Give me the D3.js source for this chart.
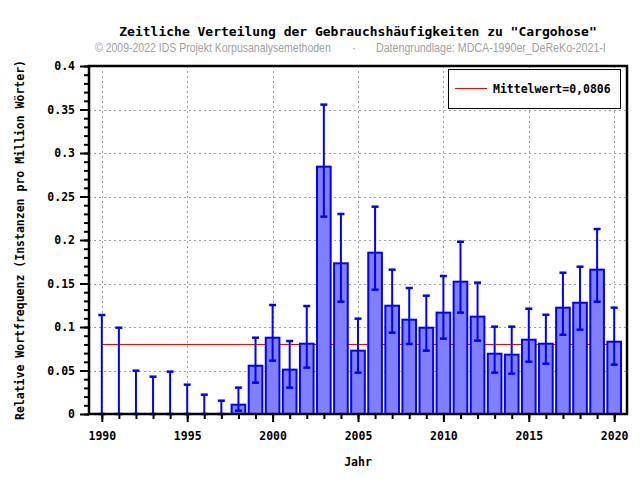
<!DOCTYPE html>
<html>
<head>
<meta charset="utf-8">
<script src="https://cdn.jsdelivr.net/npm/d3@7"></script>
<style>
  body { margin: 0; background: #fff; }
  svg { display: block; }
  text { font-family: "DejaVu Sans Mono", monospace; font-weight: bold; fill: #000; }
</style>
</head>
<body>
<svg id="chart"></svg>
<script>
const years = d3.range(1990, 2021);
const values = [0, 0, 0, 0, 0, 0, 0, 0, 0.0107, 0.0555, 0.0877, 0.051, 0.0808, 0.2843, 0.1732,
  0.0728, 0.1854, 0.1245, 0.1084, 0.0992, 0.1165, 0.1521, 0.1119, 0.0693, 0.0682, 0.0854,
  0.0808, 0.1222, 0.1279, 0.1659, 0.0831];
const errLow = [0, 0, 0, 0, 0, 0, 0, 0, 0.0038, 0.036, 0.0613, 0.0303, 0.0533, 0.2268, 0.1291,
  0.0475, 0.1429, 0.0935, 0.0805, 0.0728, 0.0866, 0.1165, 0.0843, 0.0475, 0.0464, 0.0601,
  0.0578, 0.0911, 0.0969, 0.1291, 0.0567];
const errHigh = [0.1138, 0.0992, 0.0498, 0.0429, 0.0487, 0.0337, 0.0222, 0.0153, 0.0303, 0.0877,
  0.1253, 0.0839, 0.1241, 0.3556, 0.2299, 0.1096, 0.2383, 0.1659, 0.1448, 0.136, 0.1586, 0.198,
  0.151, 0.1004, 0.1004, 0.121, 0.1141, 0.1624, 0.1693, 0.2126, 0.1222];
const meanValue = 0.0806;
const yMajor = [0, 0.05, 0.1, 0.15, 0.2, 0.25, 0.3, 0.35, 0.4];
const yMinor = d3.range(0, 41).map(i => i / 100);
const xMajor = [1990, 1995, 2000, 2005, 2010, 2015, 2020];

const data = years.map((y, i) => ({ year: y, value: values[i], lo: errLow[i], hi: errHigh[i] }));

const width = 640;
const height = 480;
const margin = { top: 66, right: 13, bottom: 66, left: 89 };

const svg = d3.select("#chart").attr("width", width).attr("height", height);

const x = d3.scaleLinear().domain([1989.25, 2020.75]).range([margin.left, width - margin.right]);
const y = d3.scaleLinear().domain([0, 0.4]).range([height - margin.bottom, margin.top]);
const barW = x(1990.8) - x(1990);

// grid
const grid = svg.append("g").attr("stroke", "#a0a0a0").attr("stroke-width", 1).attr("stroke-dasharray", "2,3");
grid.selectAll(".gy").data(yMajor.filter(d => d > 0 && d < 0.4)).join("line")
  .attr("x1", margin.left).attr("x2", width - margin.right)
  .attr("y1", d => Math.round(y(d)) + 0.5).attr("y2", d => Math.round(y(d)) + 0.5);
grid.selectAll(".gx").data(xMajor).join("line")
  .attr("x1", d => Math.round(x(d)) + 0.5).attr("x2", d => Math.round(x(d)) + 0.5)
  .attr("y1", margin.top).attr("y2", height - margin.bottom);

// mean line
svg.append("line")
  .attr("x1", x(years[0])).attr("x2", x(years[years.length - 1]))
  .attr("y1", Math.round(y(meanValue)) + 0.5).attr("y2", Math.round(y(meanValue)) + 0.5)
  .attr("stroke", "#ff0000").attr("stroke-width", 1);

// bars
svg.append("g").selectAll("rect").data(data.filter(d => d.value > 0)).join("rect")
  .attr("x", d => x(d.year) - barW / 2)
  .attr("width", barW)
  .attr("y", d => y(d.value))
  .attr("height", d => y(0) - y(d.value))
  .attr("fill", "#8080ff")
  .attr("stroke", "#0000ff")
  .attr("stroke-width", 2);

// error bars
const eb = svg.append("g").attr("stroke", "#0000ff").attr("stroke-width", 2);
const capW = 7;
eb.selectAll(".v").data(data).join("line")
  .attr("x1", d => x(d.year)).attr("x2", d => x(d.year))
  .attr("y1", d => y(d.lo)).attr("y2", d => y(d.hi));
eb.selectAll(".ch").data(data).join("line")
  .attr("x1", d => x(d.year) - capW / 2).attr("x2", d => x(d.year) + capW / 2)
  .attr("y1", d => y(d.hi)).attr("y2", d => y(d.hi)).attr("stroke-width", 2.5);
eb.selectAll(".cl").data(data).join("line")
  .attr("x1", d => x(d.year) - capW / 2).attr("x2", d => x(d.year) + capW / 2)
  .attr("y1", d => y(d.lo)).attr("y2", d => y(d.lo)).attr("stroke-width", 2.5);

// axes
const yAxisMinor = d3.axisLeft(y).tickValues(yMinor).tickSize(5).tickFormat("");
const yAxis = d3.axisLeft(y).tickValues(yMajor).tickSize(9).tickPadding(5)
  .tickFormat(d => d === 0 ? "0" : String(+d.toFixed(2)));
const xAxisMinor = d3.axisBottom(x).tickValues(years).tickSize(5).tickFormat("");
const xAxis = d3.axisBottom(x).tickValues(xMajor).tickSize(8).tickPadding(10).tickFormat(d3.format("d"));

function styleAxis(g) {
  g.selectAll("path").remove();
  g.selectAll("line").attr("stroke", "#000").attr("stroke-width", 2);
  g.selectAll("text").attr("font-family", "DejaVu Sans Mono").attr("font-weight", "bold")
    .attr("font-size", "11.5px").attr("fill", "#000");
}
svg.append("g").attr("transform", `translate(${margin.left},0)`).call(yAxisMinor).call(styleAxis);
svg.append("g").attr("transform", `translate(${margin.left},0)`).call(yAxis).call(styleAxis);
svg.append("g").attr("transform", `translate(0,${height - margin.bottom})`).call(xAxisMinor).call(styleAxis);
svg.append("g").attr("transform", `translate(0,${height - margin.bottom})`).call(xAxis).call(styleAxis);

// frame
svg.append("rect")
  .attr("x", margin.left).attr("y", margin.top)
  .attr("width", width - margin.right - margin.left)
  .attr("height", height - margin.bottom - margin.top)
  .attr("fill", "none").attr("stroke", "#000").attr("stroke-width", 2.5);

// legend
const lg = svg.append("g");
lg.append("rect").attr("x", 448.5).attr("y", 69.5).attr("width", 172).attr("height", 39)
  .attr("fill", "#fff").attr("stroke", "#000").attr("stroke-width", 1);
lg.append("line").attr("x1", 455).attr("x2", 487).attr("y1", 88.5).attr("y2", 88.5)
  .attr("stroke", "#ff0000").attr("stroke-width", 1);
lg.append("text").attr("x", 493).attr("y", 92.5).attr("font-size", "11.5px")
  .text("Mittelwert=" + String(meanValue).replace(".", ","));

// titles
svg.append("text").attr("x", (margin.left + width - margin.right) / 2).attr("y", 36)
  .attr("text-anchor", "middle").attr("font-size", "13px")
  .text("Zeitliche Verteilung der Gebrauchshäufigkeiten zu \"Cargohose\"");

// subtitle pieces, condensed horizontally to the reference width
function subText(xPos, targetW, str) {
  const t = svg.append("text").attr("font-size", "12px")
    .style("font-family", "'Liberation Sans Narrow', 'Liberation Sans', sans-serif")
    .style("font-weight", "normal").style("fill", "#a0a0a0")
    .text(str);
  const sx = targetW ? Math.min(1, targetW / t.node().getComputedTextLength()) : 1;
  t.attr("transform", `translate(${xPos},51.5) scale(${sx},1)`);
}
subText(95, 236, "© 2009-2022 IDS Projekt Korpusanalysemethoden");
subText(352, null, "·");
subText(376, 230, "Datengrundlage: MDCA-1990er_DeReKo-2021-I");

svg.append("text").attr("x", (margin.left + width - margin.right) / 2).attr("y", 466)
  .attr("text-anchor", "middle").attr("font-size", "11.5px").text("Jahr");
svg.append("text")
  .attr("transform", `translate(24,${(margin.top + height - margin.bottom) / 2}) rotate(-90)`)
  .attr("text-anchor", "middle").attr("font-size", "11.5px")
  .text("Relative Wortfrequenz (Instanzen pro Million Wörter)");
</script>
</body>
</html>
